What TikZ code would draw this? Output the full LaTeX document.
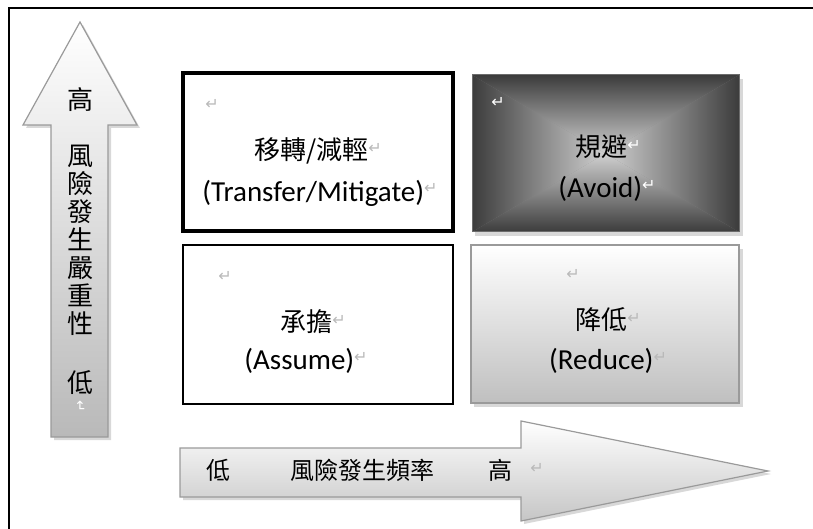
\documentclass[tikz,border=0pt]{standalone}
\usepackage{fontspec}
\setmainfont{Carlito}
\newfontfamily\cjk{Noto Sans CJK TC}
\newfontfamily\djv{DejaVu Sans}
\newcommand\pmk[1][gray!55]{\raisebox{0.25em}{\djv\fontsize{16}{16}\selectfont\textcolor{#1}{↵}}}
\definecolor{edgegray}{HTML}{9A9A9A}
\definecolor{darkedge}{HTML}{3C3C3C}
\definecolor{lightcen}{HTML}{D0D0D0}
\definecolor{midg}{HTML}{888888}
\definecolor{shadowg}{HTML}{D8D8D8}
\begin{document}
\begin{tikzpicture}[x=1pt,y=-1pt,
  zh/.style={font=\cjk\fontsize{26}{28}\selectfont, inner sep=0pt},
  zhs/.style={font=\cjk\fontsize{24}{28}\selectfont, inner sep=0pt},
  en/.style={font=\fontsize{29}{32}\selectfont, inner sep=0pt},
]
\useasboundingbox (0,0) rectangle (813,529);
% frame (top and left only)
\draw[line width=2pt] (9,529) -- (9,8) -- (813,8);

% ---- vertical arrow ----
\fill[shadowg] (83,25) -- (140,128) -- (111,128) -- (111,440) -- (54,440) -- (54,128) -- (26,128) -- cycle;
\shade[top color=white, bottom color=gray!55, draw=edgegray, line width=1.2pt]
  (80,22) -- (137,125) -- (108,125) -- (108,437) -- (51,437) -- (51,125) -- (23,125) -- cycle;
\node[zh] (vhigh) at (80,100) {高};
\node[zh, align=center] (vlabel) at (80,240) {風\\險\\發\\生\\嚴\\重\\性};
\node[zh] (vlow) at (80,383) {低};
\node[rotate=-90, inner sep=0pt, font=\djv\fontsize{14}{14}\selectfont, text=white] (vmark) at (80,406) {↵};

% ---- horizontal arrow ----
\fill[shadowg] (183,451) -- (524,451) -- (524,424) -- (771,474) -- (524,524) -- (524,500) -- (183,500) -- cycle;
\shade[top color=white, bottom color=gray!45, draw=edgegray, line width=1.2pt]
  (180,448) -- (521,448) -- (521,421) -- (768,471) -- (521,521) -- (521,497) -- (180,497) -- cycle;
\node[zhs] (hlow) at (218,470) {低};
\node[zhs] (hlabel) at (362,470) {風險發生頻率};
\node[zhs] (hhigh) at (500,470) {高};
\node[inner sep=0pt] (hmark) at (537,470) {\pmk};

% ---- top-left box ----
\draw[line width=4pt] (183,73) rectangle (453,231);
\node[inner sep=0pt] (tlm) at (212,106) {\pmk};
\node[zh] (tlzh) at (318,151) {移轉/減輕\pmk};
\node[en] (tlen) at (320,193) {(Transfer/Mitigate)\pmk};

% ---- top-right box (rectangular gradient) ----
\fill[shadowg] (475,79) rectangle (743,236);
\fill[midg] (472,75) rectangle (739,232);
\coordinate (trc) at (605.5,153.5);
\shade[top color=darkedge, bottom color=lightcen] (472,75) -- (739,75) -- (trc) -- cycle;
\shade[top color=lightcen, bottom color=darkedge] (472,232) -- (739,232) -- (trc) -- cycle;
\shade[left color=darkedge, right color=lightcen] (472,75) -- (472,232) -- (trc) -- cycle;
\shade[left color=lightcen, right color=darkedge] (739,75) -- (739,232) -- (trc) -- cycle;
\draw[edgegray!70!black, line width=1pt] (472,75) rectangle (739,232);
\node[inner sep=0pt] (trm) at (498,104) {\pmk[white]};
\node[zh] (trzh) at (608,147) {規避\pmk[white]};
\node[en] (tren) at (607,189) {(Avoid)\pmk[white]};

% ---- bottom-left box ----
\draw[line width=2pt] (183,245) rectangle (453,404);
\node[inner sep=0pt] (blm) at (225,278) {\pmk};
\node[zh] (blzh) at (313,322) {承擔\pmk};
\node[en] (blen) at (306,361) {(Assume)\pmk};

% ---- bottom-right box ----
\fill[shadowg] (474,249) rectangle (743,407);
\shade[top color=white, bottom color=gray!50, draw=edgegray, line width=1.5pt]
  (471,245) rectangle (739,403);
\node[inner sep=0pt] (brm) at (573,276) {\pmk};
\node[zh] (brzh) at (608,320) {降低\pmk};
\node[en] (bren) at (608,361) {(Reduce)\pmk};
\end{tikzpicture}
\end{document}
